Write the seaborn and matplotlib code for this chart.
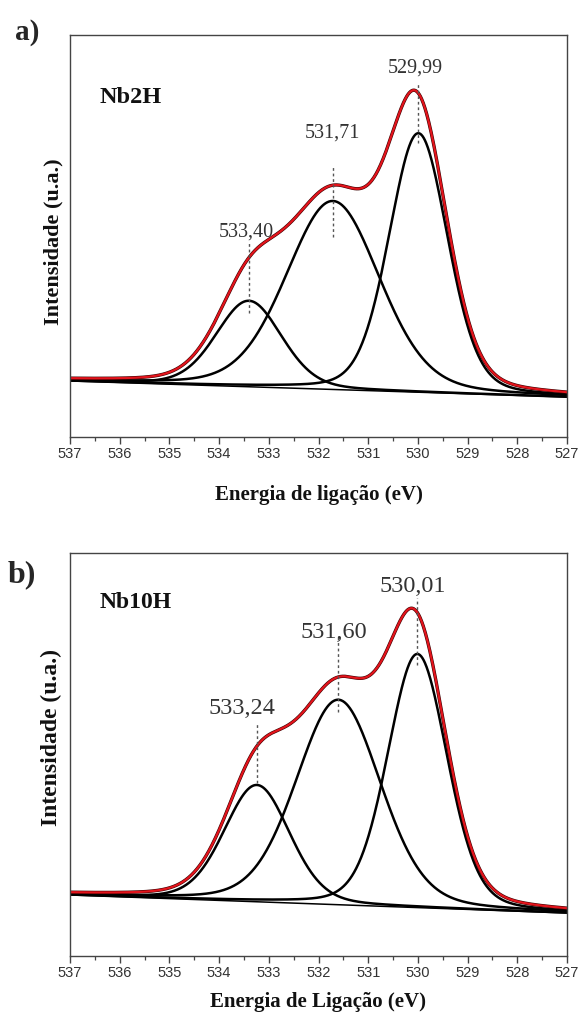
import numpy as np
import pandas as pd
import matplotlib
matplotlib.use('Agg')
import matplotlib.pyplot as plt
import seaborn as sns
from matplotlib.ticker import MultipleLocator

# ---------------- data (intensity in arbitrary units) ----------------
energy_ticks = [537, 536, 535, 534, 533, 532, 531, 530, 529, 528, 527]

# Panel a) Nb2H
a_centers = [529.99, 531.71, 533.40]
a_heights = [259.0, 188.5, 86.0]
a_fwhm = [1.39, 2.21, 1.55]
a_bg = [56.5, 40.5]            # background at 537 eV and 527 eV
a_labels = ['529,99', '531,71', '533,40']
a_label_x = [530.05, 531.71, 533.45]
a_label_y = [369.5, 304.5, 205.5]
a_dash_top = [354.5, 270.5, 194.5]
a_dash_bot = [294.5, 200.5, 124.5]
a_ymax = 402.5

# Panel b) Nb10H
b_centers = [530.01, 531.60, 533.24]
b_heights = [253.6, 205.0, 116.8]
b_fwhm = [1.41, 2.0, 1.55]
b_bg = [61.0, 43.0]
b_labels = ['530,01', '531,60', '533,24']
b_label_x = [530.10, 531.70, 533.55]
b_label_y = [370.0, 324.0, 248.0]
b_dash_top = [358.0, 319.0, 233.0]
b_dash_bot = [291.0, 244.0, 173.0]
b_ymax = 403.0

SERIF = ['Liberation Serif', 'DejaVu Serif']
SANS = ['Liberation Sans', 'DejaVu Sans']

sns.set_theme(style='white')
plt.rcParams['font.family'] = SANS

W, H = 579, 1021
fig = plt.figure(figsize=(W / 100, H / 100), dpi=100)


def add_ax(left, top, right, bottom):
    return fig.add_axes([left / W, 1 - bottom / H, (right - left) / W, (bottom - top) / H])


def pvoigt(x, c, h, w, eta=0.2):
    sig = w / 2.3548
    g = np.exp(-(x - c) ** 2 / (2 * sig ** 2))
    l = 1.0 / (1.0 + ((x - c) / (w / 2)) ** 2)
    return h * ((1 - eta) * g + eta * l)


def draw_panel(ax, centers, heights, fwhm, bg, labels, lx, ly, dtop, dbot,
               ymax, name, name_y, xlabel, lab_size, name_size,
               xlab_pad, ylab_size, ylab_pos):
    x = np.linspace(527, 537, 1201)
    base = bg[1] + (bg[0] - bg[1]) * (x - 527) / 10.0
    total = base.copy()
    # background line
    sns.lineplot(x=[537, 527], y=bg, ax=ax, color='black', lw=1.1,
                 estimator=None, sort=False)
    for c, h, w in zip(centers, heights, fwhm):
        comp = pvoigt(x, c, h, w)
        total = total + comp
        sns.lineplot(x=x, y=base + comp, ax=ax, color='black', lw=1.8,
                     estimator=None, sort=False)
    df = pd.DataFrame({'E': x, 'I': total})
    sns.lineplot(data=df, x='E', y='I', ax=ax, color='#3a0000', lw=2.4,
                 estimator=None, sort=False)
    sns.lineplot(data=df, x='E', y='I', ax=ax, color='#e3141c', lw=1.6,
                 estimator=None, sort=False)
    for c, t, b in zip(centers, dtop, dbot):
        ax.plot([c, c], [b, t], color='#555555', lw=1.0, ls=(0, (2, 2)))
    for t, xx, yy in zip(labels, lx, ly):
        ax.text(xx, yy, t, ha='center', va='center', fontsize=lab_size,
                family=SERIF, color='#333333')
    ax.text(536.4, name_y, name, ha='left', va='center', fontsize=name_size,
            family=SERIF, fontweight='bold', color='#111111')

    ax.set_xlim(537, 527)
    ax.set_ylim(0, ymax)
    ax.set_yticks([])
    ax.set_xticks(energy_ticks)
    ax.set_xticklabels([str(t) for t in energy_ticks])
    ax.xaxis.set_minor_locator(MultipleLocator(0.5))
    ax.tick_params(axis='x', which='major', direction='out', length=5,
                   width=1.0, color='#444444', labelsize=10.5,
                   labelcolor='#333333', pad=2, bottom=True)
    ax.tick_params(axis='x', which='minor', direction='out', length=3,
                   width=0.9, color='#444444', bottom=True)
    for s in ax.spines.values():
        s.set_visible(True)
        s.set_color('#444444')
        s.set_linewidth(1.0)
    ax.set_xlabel(xlabel, family=SERIF, fontweight='bold', fontsize=15,
                  labelpad=xlab_pad, color='#111111')
    ax.set_ylabel('Intensidade (u.a.)', family=SERIF, fontweight='bold',
                  fontsize=ylab_size, color='#111111')
    ax.yaxis.set_label_coords(*ylab_pos)


ax_a = add_ax(70, 35, 567, 437.5)
ax_b = add_ax(70, 553, 567, 956)

draw_panel(ax_a, a_centers, a_heights, a_fwhm, a_bg, a_labels, a_label_x,
           a_label_y, a_dash_top, a_dash_bot, a_ymax, 'Nb2H', 339.5,
           'Energia de ligação (eV)', 14.5, 17.5, 17, 16,
           (-0.013, 0.486))
draw_panel(ax_b, b_centers, b_heights, b_fwhm, b_bg, b_labels, b_label_x,
           b_label_y, b_dash_top, b_dash_bot, b_ymax, 'Nb10H', 353,
           'Energia de Ligação (eV)', 17.5, 17, 9, 17,
           (-0.017, 0.543))

fig.text(15 / W, 1 - 33 / H, 'a)', fontsize=21, fontweight='bold',
         family=SERIF, ha='left', va='center')
fig.text(8 / W, 1 - 575 / H, 'b)', fontsize=23, fontweight='bold',
         family=SERIF, ha='left', va='center')

fig.savefig('out.png', dpi=100)
